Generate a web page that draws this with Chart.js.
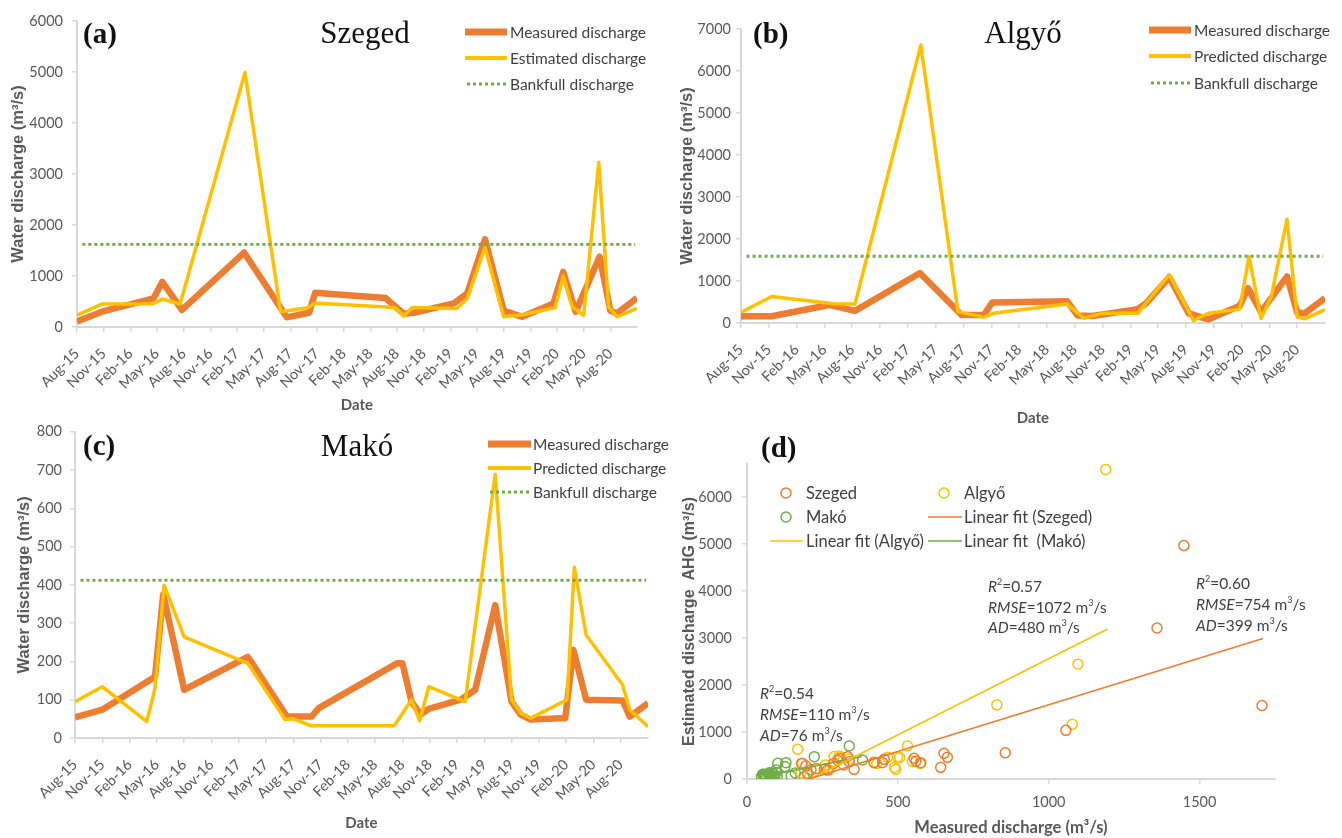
<!DOCTYPE html>
<html><head><meta charset="utf-8">
<script src="https://cdn.jsdelivr.net/npm/chart.js@4.4.1/dist/chart.umd.min.js"></script>
<style>
html,body{margin:0;padding:0;background:#fff;width:1342px;height:838px;overflow:hidden;}
body{position:relative;}
canvas{position:absolute;}
.lbl{position:absolute;white-space:nowrap;line-height:1;transform:translateY(-50%);}
.pl{font-family:'Liberation Serif','Times New Roman',serif;font-weight:bold;font-size:29px;color:#111;}
.st{font-family:'Liberation Serif','Times New Roman',serif;font-size:31px;color:#111;transform:translate(-50%,-50%);}
.an{font-family:Lato,'Liberation Sans',Arial,sans-serif;font-size:15.5px;color:#404040;}
.an sup{font-size:9px;vertical-align:top;position:relative;top:-2px;}
</style></head><body>
<canvas id="ca" width="670" height="415" style="left:0;top:0"></canvas>
<canvas id="cb" width="672" height="431" style="left:670px;top:0"></canvas>
<canvas id="cc" width="670" height="423" style="left:0;top:415px"></canvas>
<canvas id="cd" width="672" height="423" style="left:670px;top:415px"></canvas>

<div class="lbl pl" style="left:83px;top:33px">(a)</div>
<div class="lbl st" style="left:365px;top:32px">Szeged</div>
<div class="lbl pl" style="left:753px;top:33px">(b)</div>
<div class="lbl st" style="left:1023px;top:32px">Algyő</div>
<div class="lbl pl" style="left:83px;top:445px">(c)</div>
<div class="lbl st" style="left:357px;top:445px">Makó</div>
<div class="lbl pl" style="left:761px;top:447px">(d)</div>

<div class="lbl an" style="left:988px;top:587px"><i>R</i><sup>2</sup>=0.57</div>
<div class="lbl an" style="left:988px;top:608px"><i>RMSE</i>=1072 m<sup>3</sup>/s</div>
<div class="lbl an" style="left:988px;top:628px"><i>AD</i>=480 m<sup>3</sup>/s</div>
<div class="lbl an" style="left:1196px;top:584px"><i>R</i><sup>2</sup>=0.60</div>
<div class="lbl an" style="left:1196px;top:605px"><i>RMSE</i>=754 m<sup>3</sup>/s</div>
<div class="lbl an" style="left:1196px;top:626px"><i>AD</i>=399 m<sup>3</sup>/s</div>
<div class="lbl an" style="left:760px;top:694px"><i>R</i><sup>2</sup>=0.54</div>
<div class="lbl an" style="left:760px;top:715px"><i>RMSE</i>=110 m<sup>3</sup>/s</div>
<div class="lbl an" style="left:760px;top:736px"><i>AD</i>=76 m<sup>3</sup>/s</div>

<script>
// ---------- DATA ----------
// x ticks every 3 months starting Aug-15 (x values are months since Aug-2015)
const xTickLabels = ['Aug-15','Nov-15','Feb-16','May-16','Aug-16','Nov-16','Feb-17','May-17','Aug-17','Nov-17','Feb-18','May-18','Aug-18','Nov-18','Feb-19','May-19','Aug-19','Nov-19','Feb-20','May-20','Aug-20'];
const xTickMonths = [0,3,6,9,12,15,18,21,24,27,30,33,36,39,42,45,48,51,54,57,60];

// (a) Szeged
const szegedMeasuredMonth = [0, 2.8, 8.6, 9.6, 11.8, 18.8, 23.6, 26.1, 26.8, 34.7, 36.75, 37.9, 42.4, 43.9, 45.9, 48, 50.1, 53.6, 54.7, 56.1, 58.8, 60, 60.75, 63];
const szegedMeasured      = [110, 300, 560, 885, 335, 1460, 190, 280, 670, 570, 260, 280, 462, 658, 1720, 320, 200, 462, 1080, 300, 1380, 320, 270, 570];
const szegedEstimatedMonth = [0, 2.8, 8.6, 9.6, 11.6, 18.9, 22.9, 26.0, 26.8, 35.8, 36.75, 37.7, 42.75, 43.9, 45.9, 48, 50.1, 53.8, 54.7, 55.7, 57.0, 58.7, 59.8, 60.75, 63];
const szegedEstimated      = [230, 450, 455, 550, 450, 4990, 300, 380, 470, 384, 215, 380, 365, 560, 1560, 200, 240, 380, 1000, 400, 230, 3230, 400, 200, 365];
const szegedBankfull = 1620;

// (b) Algyő
const algyoMeasuredMonth = [0, 3.3, 9.5, 12.3, 19.3, 23.8, 26.2, 27.1, 35.2, 36.3, 37.9, 42.8, 43.7, 46.2, 48.3, 50.4, 53.8, 54.7, 56.1, 58.9, 60, 60.8, 63];
const algyoMeasured      = [160, 160, 430, 290, 1190, 190, 190, 490, 515, 180, 165, 330, 470, 1090, 230, 85, 410, 830, 260, 1110, 250, 230, 590];
const algyoPredictedMonth = [0, 3.3, 10, 12.3, 19.4, 23.4, 26.2, 27.4, 35.2, 37, 38.9, 42.8, 46.2, 48.8, 50.4, 53.8, 54.8, 56.1, 57.2, 58.9, 60, 60.8, 63];
const algyoPredicted      = [250, 630, 460, 450, 6620, 270, 140, 240, 450, 110, 230, 230, 1150, 60, 230, 330, 1580, 110, 620, 2470, 140, 100, 320];
const algyoBankfull = 1590;

// (c) Makó
const makoMeasuredMonth = [0, 3, 8.8, 9.7, 12, 19, 23.3, 26, 26.8, 35.4, 36, 37, 38, 38.9, 42.4, 44, 46.2, 48, 49, 50.1, 53.9, 54.8, 56.2, 60.2, 61, 63];
const makoMeasured      = [54, 74, 160, 375, 126, 212, 56, 56, 78, 195, 195, 95, 61, 76, 100, 126, 347, 95, 61, 48, 52, 230, 100, 98, 56, 91];
const makoPredictedMonth = [0, 3, 7.9, 8.8, 9.8, 12, 19, 23.1, 24, 26, 35.1, 37, 37.9, 38.9, 42.9, 46.2, 48, 49, 50.1, 54.1, 54.9, 56.2, 60.2, 61, 63];
const makoPredicted      = [95, 134, 43, 130, 399, 264, 195, 48, 50, 32, 32, 100, 45, 134, 95, 689, 100, 65, 52, 100, 446, 269, 139, 74, 30];
const makoBankfull = 412;

// (d) scatter: measured vs estimated
const scSzegedMeasured  = [1448,1359,1707,1057,856,653,664,642,554,576,560,455,449,422,355,339,333,306,287,266,256,230,201,181,195,300,320];
const scSzegedEstimated = [4965,3211,1563,1035,556,546,461,248,440,347,380,418,347,347,206,369,475,430,331,190,206,225,121,331,280,400,300];
const scAlgyoMeasured   = [1189,1097,1078,828,532,506,574,489,499,466,493,548,168,306,289,273,184,179,200,310,260,230,420,340,430];
const scAlgyoEstimated  = [6584,2443,1162,1577,702,458,331,246,461,461,206,380,632,489,480,191,333,134,80,450,300,220,360,430,330];
const scMakoMeasured    = [339,383,223,129,102,96,146,190,55,60,65,70,75,80,85,90,100,54,74,160,126,212,61,48,52,98,56,91,56,78];
const scMakoEstimated   = [702,404,475,347,333,191,64,49,60,95,40,110,70,50,130,95,60,100,134,130,264,195,45,52,100,139,74,30,32,32];
const fitSzegedX = [205, 1710], fitSzegedY = [0, 2990];
const fitAlgyoX  = [210, 1195], fitAlgyoY  = [0, 3190];
const fitMakoX   = [60, 380],   fitMakoY   = [60, 480];
const dXTicks = [0, 500, 1000, 1500];
const dYTicks = [0, 1000, 2000, 3000, 4000, 5000, 6000];

// ---------- STYLE ----------
const SANS = "Lato,'Liberation Sans',Arial,sans-serif";
const WIDE = "'Liberation Sans',Arial,sans-serif";
const ORANGE = '#ED7D31', YELLOW = '#FFC000', GREEN = '#70AD47';
const AXIS = '#d9d9d9', TXT = '#595959';
Chart.defaults.font.family = SANS;
Chart.defaults.color = TXT;

const pts = (xs, ys) => xs.map((x, i) => ({x, y: ys[i]}));
const plain = v => String(v);
const setTicks = vals => s => { s.ticks = vals.map(v => ({value: v})); };

function legendPlugin(items, size) {
  return {
    id: 'panelLegend',
    afterDatasetsDraw(chart) {
      const ctx = chart.ctx;
      items.forEach(it => {
        const ds = chart.data.datasets[it.ds];
        ctx.save();
        ctx.strokeStyle = ds.borderColor;
        if (it.kind === 'line') {
          ctx.lineWidth = it.w || ds.borderWidth;
          ctx.setLineDash(ds.borderDash || []);
          ctx.lineCap = 'butt';
          ctx.beginPath(); ctx.moveTo(it.x1, it.y); ctx.lineTo(it.x2, it.y); ctx.stroke();
        } else {
          ctx.lineWidth = ds.pointBorderWidth;
          ctx.beginPath(); ctx.arc(it.cx, it.y, ds.pointRadius, 0, Math.PI * 2); ctx.stroke();
        }
        ctx.setLineDash([]);
        ctx.fillStyle = '#404040';
        ctx.font = size + 'px ' + SANS;
        ctx.textBaseline = 'middle'; ctx.textAlign = 'left';
        ctx.fillText(ds.label, it.tx, it.y + 1);
        ctx.restore();
      });
    }
  };
}

const gridCfg = {drawOnChartArea: false, drawTicks: true, tickLength: 5, color: AXIS, lineWidth: 1.5};
const borderCfg = {color: AXIS, width: 2};

function timeChart(id, m, p, bank, yMax, yStep, predLabel, box, leg) {
  return new Chart(document.getElementById(id), {
    type: 'line',
    data: {datasets: [
      {label: 'Measured discharge', data: pts(m[0], m[1]), borderColor: ORANGE, borderWidth: 6.5, order: 3},
      {label: predLabel, data: pts(p[0], p[1]), borderColor: YELLOW, borderWidth: 3.5, order: 2},
      {label: 'Bankfull discharge', data: [{x: 0.6, y: bank}, {x: 62.8, y: bank}], borderColor: GREEN, borderWidth: 3, borderDash: [3, 3], order: 1}
    ]},
    options: {
      responsive: false, animation: false, events: [],
      layout: {padding: {left: 0, right: box.pr, top: box.pt, bottom: 0}},
      elements: {point: {radius: 0}, line: {tension: 0, borderJoinStyle: 'round', borderCapStyle: 'butt', fill: false}},
      plugins: {legend: {display: false}, tooltip: {enabled: false}},
      scales: {
        x: {type: 'linear', min: 0, max: 63,
          ticks: {autoSkip: false, minRotation: 45, maxRotation: 45, font: {size: 14.5}, color: TXT, padding: 13,
            callback: v => xTickLabels[xTickMonths.indexOf(v)] ?? ''},
          afterBuildTicks: setTicks(xTickMonths),
          afterFit: s => { s.height = box.xh; },
          grid: gridCfg, border: borderCfg,
          title: {display: true, text: 'Date', font: {size: 15, weight: 'bold'}, color: TXT, padding: {top: 4, bottom: box.tpb}}},
        y: {min: 0, max: yMax,
          ticks: {stepSize: yStep, font: {size: 14.5}, color: TXT, padding: box.yp, callback: plain},
          afterFit: s => { s.width = box.yw; },
          grid: gridCfg, border: borderCfg,
          title: {display: true, text: 'Water discharge (m³/s)', font: {family: WIDE, size: 16.5, weight: 'bold'}, color: TXT, padding: {top: box.ytp, bottom: 0}}}
      }
    },
    plugins: [legendPlugin([
      {ds: 0, kind: 'line', x1: leg.x1, x2: leg.x2, tx: leg.tx, y: leg.y[0], w: 7},
      {ds: 1, kind: 'line', x1: leg.x1, x2: leg.x2, tx: leg.tx, y: leg.y[1], w: 4},
      {ds: 2, kind: 'line', x1: leg.x1 + 2, x2: leg.x2, tx: leg.tx, y: leg.y[2]}
    ], 15.5)]
  });
}

timeChart('ca', [szegedMeasuredMonth, szegedMeasured], [szegedEstimatedMonth, szegedEstimated], szegedBankfull, 6000, 1000, 'Estimated discharge',
  {pr: 33, pt: 21, xh: 88, yw: 77, tpb: 1, ytp: 9, yp: 9}, {x1: 465, x2: 507, tx: 510, y: [32, 58, 84]});
timeChart('cb', [algyoMeasuredMonth, algyoMeasured], [algyoPredictedMonth, algyoPredicted], algyoBankfull, 7000, 1000, 'Predicted discharge',
  {pr: 17, pt: 29, xh: 108, yw: 71, tpb: 4, ytp: 8, yp: 5}, {x1: 479, x2: 521, tx: 524, y: [30, 56, 83]});
timeChart('cc', [makoMeasuredMonth, makoMeasured], [makoPredictedMonth, makoPredicted], makoBankfull, 800, 100, 'Predicted discharge',
  {pr: 22, pt: 16, xh: 100, yw: 75, tpb: 6, ytp: 15, yp: 8}, {x1: 488, x2: 531, tx: 533, y: [29, 53, 77]});

// (d) scatter
const ptStyle = c => ({borderColor: c, backgroundColor: 'rgba(0,0,0,0)', pointBackgroundColor: 'rgba(0,0,0,0)', pointBorderColor: c, pointRadius: 5, pointBorderWidth: 1.5, showLine: false});
new Chart(document.getElementById('cd'), {
  type: 'scatter',
  data: {datasets: [
    Object.assign({label: 'Szeged', data: pts(scSzegedMeasured, scSzegedEstimated), order: 4}, ptStyle(ORANGE)),
    Object.assign({label: 'Algyő', data: pts(scAlgyoMeasured, scAlgyoEstimated), order: 5}, ptStyle(YELLOW)),
    Object.assign({label: 'Makó', data: pts(scMakoMeasured, scMakoEstimated), order: 6}, ptStyle(GREEN)),
    {label: 'Linear fit (Szeged)', data: pts(fitSzegedX, fitSzegedY), showLine: true, borderColor: ORANGE, borderWidth: 1.6, pointRadius: 0, order: 1},
    {label: 'Linear fit (Algyő)', data: pts(fitAlgyoX, fitAlgyoY), showLine: true, borderColor: YELLOW, borderWidth: 1.6, pointRadius: 0, order: 2},
    {label: 'Linear fit  (Makó)', data: pts(fitMakoX, fitMakoY), showLine: true, borderColor: GREEN, borderWidth: 1.6, pointRadius: 0, order: 3}
  ]},
  options: {
    responsive: false, animation: false, events: [],
    layout: {padding: {left: 0, right: 67, top: 49, bottom: 0}},
    plugins: {legend: {display: false}, tooltip: {enabled: false}},
    scales: {
      x: {type: 'linear', min: 0, max: 1750,
        ticks: {font: {size: 14.5}, color: TXT, padding: 10, callback: plain},
        afterBuildTicks: setTicks(dXTicks),
        afterFit: s => { s.height = 59; },
        grid: gridCfg, border: borderCfg,
        title: {display: true, text: 'Measured discharge (m³/s)', font: {size: 16.5, weight: 'bold'}, color: TXT, padding: {top: 2, bottom: 0}}},
      y: {min: 0, max: 6700,
        ticks: {font: {size: 14.5}, color: TXT, padding: 10, callback: plain},
        afterBuildTicks: setTicks(dYTicks),
        afterFit: s => { s.width = 77; },
        grid: gridCfg, border: borderCfg,
        title: {display: true, text: 'Estimated discharge  AHG (m³/s)', font: {family: WIDE, size: 16, weight: 'bold'}, color: TXT, padding: {top: 10, bottom: 0}}}
    }
  },
  plugins: [legendPlugin([
    {ds: 0, kind: 'point', cx: 116, tx: 136, y: 78},
    {ds: 1, kind: 'point', cx: 274, tx: 294, y: 78},
    {ds: 2, kind: 'point', cx: 116, tx: 136, y: 102},
    {ds: 3, kind: 'line', x1: 258, x2: 292, tx: 294, y: 102},
    {ds: 4, kind: 'line', x1: 100, x2: 133, tx: 136, y: 126},
    {ds: 5, kind: 'line', x1: 258, x2: 292, tx: 294, y: 126}
  ], 16.5)]
});
</script>
</body></html>
